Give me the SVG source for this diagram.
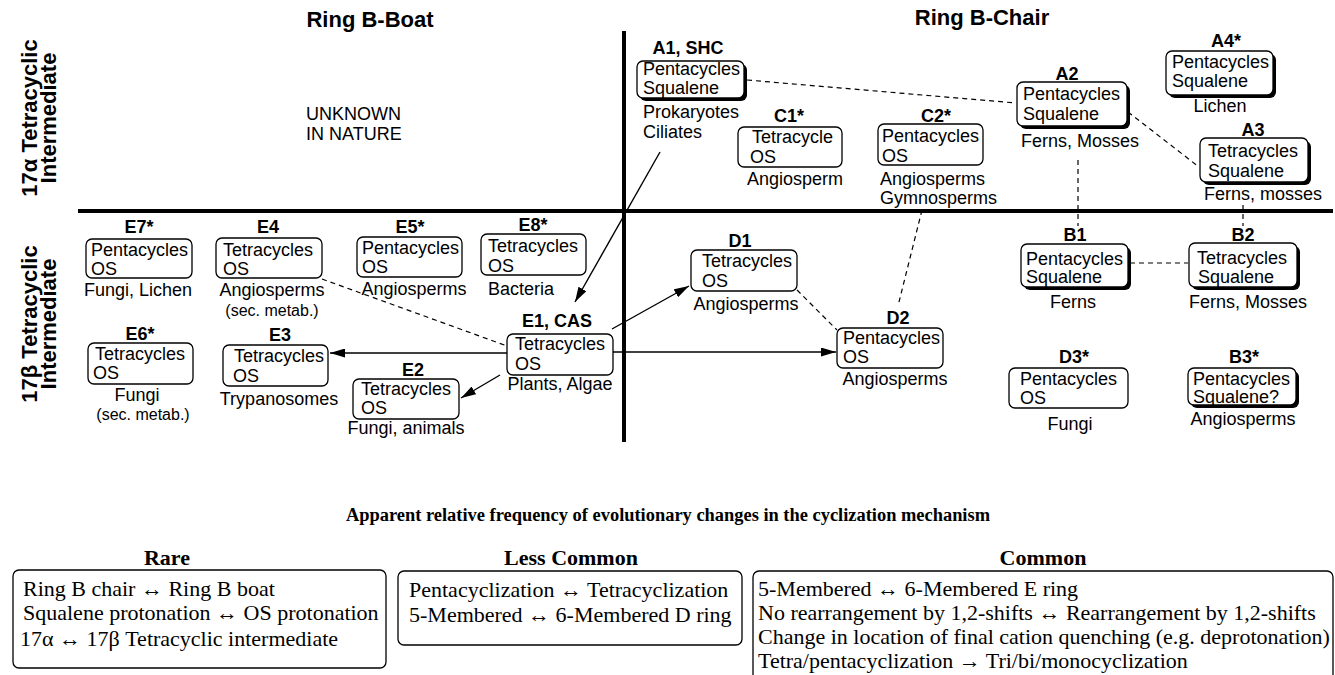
<svg xmlns="http://www.w3.org/2000/svg" width="1335" height="675" viewBox="0 0 1335 675">
<style>
text{font-family:"Liberation Sans",Arial,sans-serif;font-size:18px;fill:#000}
.lbl{font-weight:bold;text-anchor:middle}
.mid{text-anchor:middle}
.small{font-size:16px}
.head{font-weight:bold;font-size:22px}
.box{fill:#fff;stroke:#000;stroke-width:1.3}
.sh{fill:#000}
.dash{stroke:#000;stroke-width:1.2;stroke-dasharray:5 4;fill:none}
.arr{stroke:#000;stroke-width:1.4;fill:none;marker-end:url(#ah)}
.axis{stroke:#000;stroke-width:4}
.ser{font-family:"Liberation Serif","Times New Roman",serif;font-size:22px}
.serb{font-family:"Liberation Serif","Times New Roman",serif;font-size:22px;font-weight:bold;text-anchor:middle}
</style>
<defs>
<marker id="ah" markerUnits="userSpaceOnUse" markerWidth="16" markerHeight="9" refX="15" refY="4.5" orient="auto">
<path d="M0,0 L15,4.5 L0,9 Z" fill="#000"/>
</marker>
</defs>
<rect width="1335" height="675" fill="#fff"/>

<g id="axes">
<line class="axis" x1="624" y1="31" x2="624" y2="442"/>
<line class="axis" x1="78" y1="211" x2="1333" y2="211"/>
<text class="head mid" x="370" y="27">Ring B-Boat</text>
<text class="head mid" x="982" y="25">Ring B-Chair</text>
<text class="head mid" transform="translate(37,118) rotate(-90)">17α Tetracyclic</text>
<text class="head mid" transform="translate(56,118) rotate(-90)">Intermediate</text>
<text class="head mid" transform="translate(37,324) rotate(-90)">17β Tetracyclic</text>
<text class="head mid" transform="translate(56,324) rotate(-90)">Intermediate</text>
<text x="306" y="120">UNKNOWN</text>
<text x="306" y="140">IN NATURE</text>
</g>

<g id="connectors">
<line class="dash" x1="747" y1="80" x2="1016" y2="103"/>
<line class="dash" x1="1128" y1="112" x2="1199" y2="167"/>
<line class="dash" x1="1078" y1="160" x2="1078" y2="226"/>
<line class="dash" x1="1243" y1="205" x2="1243" y2="226"/>
<line class="dash" x1="1130" y1="263" x2="1188" y2="263"/>
<line class="dash" x1="922" y1="210" x2="898" y2="306"/>
<line class="dash" x1="797" y1="290" x2="837" y2="330"/>
<line class="dash" x1="322" y1="279" x2="507" y2="346"/>
<line class="arr" x1="660" y1="152" x2="575" y2="302"/>
<line class="arr" x1="612" y1="329" x2="689" y2="286"/>
<line class="arr" x1="613" y1="352" x2="836" y2="352"/>
<line class="arr" x1="507" y1="353" x2="330" y2="353"/>
<line class="arr" x1="500" y1="375" x2="461" y2="398"/>
</g>

<g id="A1">
<text class="lbl" x="688" y="54">A1, SHC</text>
<rect class="sh" x="640" y="64" width="107" height="37" rx="6"/>
<rect class="box" x="637" y="61" width="107" height="37" rx="6"/>
<text x="643" y="75">Pentacycles</text><text x="643" y="94">Squalene</text>
<text x="643" y="118">Prokaryotes</text><text x="643" y="138">Ciliates</text>
</g>
<g id="C1">
<text class="lbl" x="789" y="122">C1*</text>
<rect class="box" x="738" y="127" width="104" height="40" rx="6"/>
<text x="752" y="143">Tetracycle</text><text x="750" y="163">OS</text>
<text class="mid" x="795" y="185">Angiosperm</text>
</g>
<g id="C2">
<text class="lbl" x="936" y="122">C2*</text>
<rect class="box" x="878" y="124" width="105" height="41" rx="6"/>
<text x="882" y="142">Pentacycles</text><text x="882" y="162">OS</text>
<text x="880" y="185">Angiosperms</text><text x="880" y="204">Gymnosperms</text>
</g>
<g id="A2">
<text class="lbl" x="1067" y="80">A2</text>
<rect class="sh" x="1020" y="85" width="110" height="44" rx="6"/>
<rect class="box" x="1017" y="82" width="110" height="44" rx="6"/>
<text x="1023" y="100">Pentacycles</text><text x="1023" y="120">Squalene</text>
<text class="mid" x="1080" y="147">Ferns, Mosses</text>
</g>
<g id="A4">
<text class="lbl" x="1226" y="47">A4*</text>
<rect class="sh" x="1169" y="54" width="107" height="44" rx="6"/>
<rect class="box" x="1166" y="51" width="107" height="44" rx="6"/>
<text x="1172" y="68">Pentacycles</text><text x="1172" y="87">Squalene</text>
<text class="mid" x="1220" y="112">Lichen</text>
</g>
<g id="A3">
<text class="lbl" x="1253" y="136">A3</text>
<rect class="sh" x="1203" y="141" width="108" height="44" rx="6"/>
<rect class="box" x="1200" y="138" width="108" height="44" rx="6"/>
<text x="1208" y="157">Tetracycles</text><text x="1208" y="177">Squalene</text>
<text class="mid" x="1263" y="200">Ferns, mosses</text>
</g>

<g id="E7">
<text class="lbl" x="139" y="233">E7*</text>
<rect class="box" x="86" y="239" width="106" height="39" rx="6"/>
<text x="91" y="256">Pentacycles</text><text x="91" y="275">OS</text>
<text class="mid" x="138" y="296">Fungi, Lichen</text>
</g>
<g id="E4">
<text class="lbl" x="268" y="233">E4</text>
<rect class="box" x="216" y="238" width="106" height="40" rx="6"/>
<text x="223" y="256">Tetracycles</text><text x="223" y="275">OS</text>
<text class="mid" x="272" y="296">Angiosperms</text>
<text class="mid small" x="272" y="316">(sec. metab.)</text>
</g>
<g id="E5">
<text class="lbl" x="410" y="233">E5*</text>
<rect class="box" x="357" y="237" width="105" height="40" rx="6"/>
<text x="362" y="254">Pentacycles</text><text x="362" y="273">OS</text>
<text class="mid" x="414" y="295">Angiosperms</text>
</g>
<g id="E8">
<text class="lbl" x="533" y="231">E8*</text>
<rect class="box" x="481" y="234" width="105" height="41" rx="6"/>
<text x="488" y="252">Tetracycles</text><text x="488" y="272">OS</text>
<text class="mid" x="521" y="295">Bacteria</text>
</g>
<g id="E6">
<text class="lbl" x="140" y="340">E6*</text>
<rect class="box" x="88" y="343" width="105" height="41" rx="6"/>
<text x="95" y="360">Tetracycles</text><text x="93" y="379">OS</text>
<text class="mid" x="137" y="401">Fungi</text>
<text class="mid small" x="143" y="420">(sec. metab.)</text>
</g>
<g id="E3">
<text class="lbl" x="280" y="341">E3</text>
<rect class="box" x="223" y="345" width="105" height="41" rx="6"/>
<text x="234" y="362">Tetracycles</text><text x="233" y="382">OS</text>
<text class="mid" x="279" y="405">Trypanosomes</text>
</g>
<g id="E2">
<text class="lbl" x="413" y="376">E2</text>
<rect class="box" x="353" y="379" width="106" height="40" rx="6"/>
<text x="361" y="395">Tetracycles</text><text x="361" y="414">OS</text>
<text class="mid" x="406" y="434">Fungi, animals</text>
</g>
<g id="E1">
<text class="lbl" x="557" y="327">E1, CAS</text>
<rect class="box" x="507" y="334" width="106" height="41" rx="6"/>
<text x="515" y="350">Tetracycles</text><text x="515" y="370">OS</text>
<text class="mid" x="560" y="390">Plants, Algae</text>
</g>
<g id="D1">
<text class="lbl" x="740" y="247">D1</text>
<rect class="box" x="691" y="250" width="106" height="41" rx="6"/>
<text x="702" y="267">Tetracycles</text><text x="702" y="287">OS</text>
<text class="mid" x="746" y="310">Angiosperms</text>
</g>
<g id="D2">
<text class="lbl" x="898" y="324">D2</text>
<rect class="box" x="837" y="328" width="106" height="40" rx="6"/>
<text x="843" y="344">Pentacycles</text><text x="843" y="363">OS</text>
<text class="mid" x="895" y="385">Angiosperms</text>
</g>
<g id="B1">
<text class="lbl" x="1075" y="241">B1</text>
<rect class="sh" x="1024" y="247" width="107" height="43" rx="6"/>
<rect class="box" x="1021" y="244" width="107" height="43" rx="6"/>
<text x="1026" y="265">Pentacycles</text><text x="1026" y="283">Squalene</text>
<text class="mid" x="1073" y="308">Ferns</text>
</g>
<g id="B2">
<text class="lbl" x="1243" y="241">B2</text>
<rect class="sh" x="1192" y="246" width="108" height="44" rx="6"/>
<rect class="box" x="1189" y="243" width="108" height="44" rx="6"/>
<text x="1197" y="264">Tetracycles</text><text x="1198" y="283">Squalene</text>
<text class="mid" x="1248" y="308">Ferns, Mosses</text>
</g>
<g id="D3">
<text class="lbl" x="1074" y="363">D3*</text>
<rect class="box" x="1009" y="368" width="119" height="40" rx="6"/>
<text x="1020" y="385">Pentacycles</text><text x="1020" y="404">OS</text>
<text class="mid" x="1070" y="430">Fungi</text>
</g>
<g id="B3">
<text class="lbl" x="1244" y="363">B3*</text>
<rect class="sh" x="1191" y="371" width="108" height="37" rx="6"/>
<rect class="box" x="1188" y="368" width="108" height="37" rx="6"/>
<text x="1193" y="385">Pentacycles</text><text x="1193" y="403">Squalene?</text>
<text class="mid" x="1243" y="425">Angiosperms</text>
</g>

<g id="table">
<text class="serb" x="668" y="521" style="font-size:18px" textLength="644" lengthAdjust="spacingAndGlyphs">Apparent relative frequency of evolutionary changes in the cyclization mechanism</text>
<g id="rare">
<text class="serb" x="167" y="565">Rare</text>
<rect class="box" x="13" y="570" width="373" height="98" rx="6"/>
<text class="ser" x="23" y="596">Ring B chair ↔ Ring B boat</text>
<text class="ser" x="23" y="620">Squalene protonation ↔ OS protonation</text>
<text class="ser" x="20" y="646">17α ↔ 17β Tetracyclic intermediate</text>
</g>
<g id="lesscommon">
<text class="serb" x="571" y="565">Less Common</text>
<rect class="box" x="398" y="571" width="344" height="74" rx="6"/>
<text class="ser" x="409" y="597">Pentacyclization ↔ Tetracyclization</text>
<text class="ser" x="409" y="622">5-Membered ↔ 6-Membered D ring</text>
</g>
<g id="common">
<text class="serb" x="1043" y="565">Common</text>
<rect class="box" x="753" y="571" width="580" height="130" rx="6"/>
<text class="ser" x="758" y="596">5-Membered ↔ 6-Membered E ring</text>
<text class="ser" x="758" y="620">No rearrangement by 1,2-shifts ↔  Rearrangement by 1,2-shifts</text>
<text class="ser" x="758" y="644">Change in location of final cation quenching (e.g. deprotonation)</text>
<text class="ser" x="758" y="668">Tetra/pentacyclization → Tri/bi/monocyclization</text>
</g>
</g>
</svg>
